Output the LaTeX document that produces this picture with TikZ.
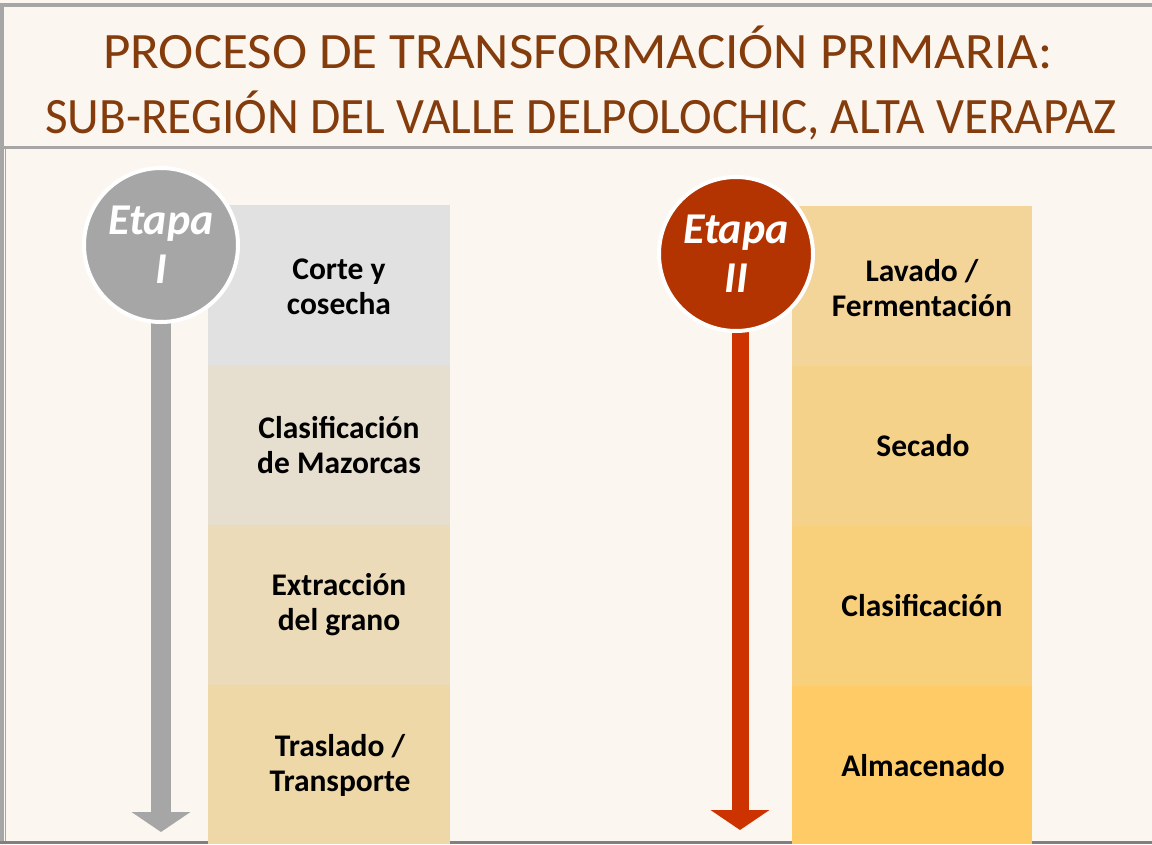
\documentclass[tikz,border=0pt]{standalone}
\usepackage{fontspec}
\setmainfont{Carlito}
\usetikzlibrary{arrows.meta}
\definecolor{bg}{HTML}{FBF6EF}
\definecolor{framegray}{HTML}{A6A6A6}
\definecolor{framedark}{HTML}{808080}
\definecolor{titlecol}{HTML}{843C0C}
\definecolor{gcirc}{HTML}{A6A6A6}
\definecolor{rcirc}{HTML}{B33400}
\definecolor{rarrow}{HTML}{CC3300}
\definecolor{la}{HTML}{E1E1E1}
\definecolor{lb}{HTML}{E6DFCF}
\definecolor{lc}{HTML}{EBDBB8}
\definecolor{ld}{HTML}{EFD8A8}
\definecolor{ra}{HTML}{F3D499}
\definecolor{rb}{HTML}{F5D289}
\definecolor{rc}{HTML}{F8CF7B}
\definecolor{rd}{HTML}{FECB67}
\begin{document}
\begin{tikzpicture}[x=1pt,y=-1pt,
  titletext/.style={anchor=base, text=titlecol, font=\fontsize{51}{60}\selectfont, inner sep=0},
  boxL/.style={anchor=north west, minimum width=242pt, inner sep=0, draw=none},
  boxR/.style={anchor=north west, minimum width=240pt, inner sep=0, draw=none},
  steptext/.style={align=center, font=\fontsize{31.5}{35}\selectfont\bfseries, text=black, inner sep=0},
  stage/.style={circle, minimum size=154pt, draw=white, line width=4pt, inner sep=0, align=center,
     text=white, font=\fontsize{44}{49}\selectfont\bfseries\itshape},
  stagearrow/.style={-{Triangle[length=20pt,width=58pt]}}
]
\useasboundingbox (0,0) rectangle (1152,844);
\fill[bg] (0,0) rectangle (1152,844);
% frame
\fill[framegray] (0,3) rectangle (1152,7);
\fill[framegray] (0,3) rectangle (4,844);
\fill[framegray] (0,146) rectangle (1152,149);
\draw[framegray, line width=1pt] (5.5,149) -- (5.5,842);
\fill[framedark] (0,841) rectangle (1152,844);
% title
\node[titletext, xscale=1.04] (title1) at (578,68) {PROCESO DE TRANSFORMACIÓN PRIMARIA:};
\node[titletext, xscale=0.965] (title2) at (581,133) {SUB-REGIÓN DEL VALLE DELPOLOCHIC, ALTA VERAPAZ};
% left column boxes
\node[boxL, fill=la, minimum height=160pt] (L1) at (208,205) {};
\node[boxL, fill=lb, minimum height=160pt] (L2) at (208,365) {};
\node[boxL, fill=lc, minimum height=160pt] (L3) at (208,525) {};
\node[boxL, fill=ld, minimum height=159pt] (L4) at (208,685) {};
\node[steptext] (L1t) at (339,287) {Corte y\\cosecha};
\node[steptext] (L2t) at (339,445) {Clasificación\\de Mazorcas};
\node[steptext] (L3t) at (339,605) {Extracción\\del grano};
\node[steptext] (L4t) at (340,765) {Traslado /\\Transporte};
% right column boxes
\node[boxR, fill=ra, minimum height=160pt] (R1) at (792,206) {};
\node[boxR, fill=rb, minimum height=160pt] (R2) at (792,366) {};
\node[boxR, fill=rc, minimum height=160pt] (R3) at (792,526) {};
\node[boxR, fill=rd, minimum height=158pt] (R4) at (792,686) {};
\node[steptext] (R1t) at (922,288) {Lavado /\\Fermentación};
\node[steptext] (R2t) at (923,446) {Secado};
\node[steptext] (R3t) at (922,606) {Clasificación};
\node[steptext] (R4t) at (923,766) {Almacenado};
% arrows
\coordinate (A1s) at (161,300);
\coordinate (A1e) at (161,832);
\coordinate (A2s) at (740,300);
\coordinate (A2e) at (740,830);
\draw[stagearrow, framegray, line width=20pt] (A1s) -- (A1e);
\draw[stagearrow, rarrow, line width=17pt] (A2s) -- (A2e);
% stage circles
\node[stage, fill=gcirc] (S1) at (161,245) {Etapa\\I};
\node[stage, fill=rcirc] (S2) at (736,254) {Etapa\\II};
\end{tikzpicture}
\end{document}
